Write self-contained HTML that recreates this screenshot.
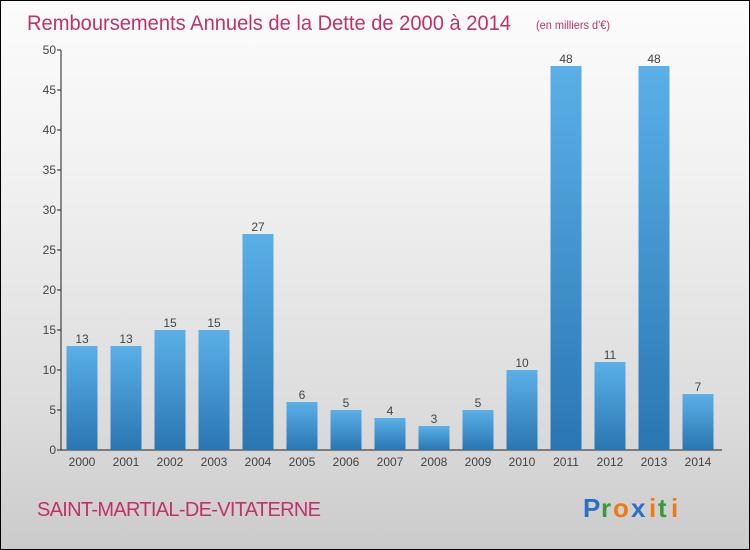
<!DOCTYPE html>
<html><head><meta charset="utf-8"><style>
html,body{margin:0;padding:0}
body{width:750px;height:550px;overflow:hidden;font-family:"Liberation Sans",sans-serif}
#wrap{position:relative;width:748px;height:548px;border:1px solid #000;background:linear-gradient(#fcfcfc,#f2f2f2 30%,#dcdcdc 75%,#cbcbcb)}
</style></head><body>
<div id="wrap">
<svg width="748" height="548" style="position:absolute;left:0;top:0">
<defs><linearGradient id="bg" x1="0" y1="0" x2="0" y2="1"><stop offset="0" stop-color="#5bb0e8"/><stop offset="1" stop-color="#2a76b2"/></linearGradient></defs>
<text x="26" y="29" font-size="21" fill="#c2316a" textLength="484" lengthAdjust="spacingAndGlyphs">Remboursements Annuels de la Dette de 2000 à 2014</text>
<text x="535" y="28" font-size="12" fill="#c2316a" textLength="74" lengthAdjust="spacingAndGlyphs">(en milliers d'€)</text>
<g id="axes"></g><g id="bars"></g>
<text x="36" y="515" font-size="20" fill="#c2316a" textLength="284">SAINT-MARTIAL-DE-VITATERNE</text>
<g font-size="26" font-family="'Liberation Sans',sans-serif" font-weight="bold">
<text x="582" y="516" fill="#2a70c8">P</text><text x="600" y="516" fill="#3a9a3a">r</text><text x="612" y="516" fill="#f07a10">o</text><text x="630" y="516" fill="#2a70c8">x</text><text x="648" y="516" fill="#f07a10">i</text><text x="657" y="516" fill="#3a9a3a">t</text><text x="670" y="516" fill="#f07a10">i</text>
</g>
</svg></div>
<script>
const years=["2000","2001","2002","2003","2004","2005","2006","2007","2008","2009","2010","2011","2012","2013","2014"];
const values=[13,13,15,15,27,6,5,4,3,5,10,48,11,48,7];
const yTicks=[0,5,10,15,20,25,30,35,40,45,50];
const NS="http://www.w3.org/2000/svg";
const y0=449,yMax=50,ph=400,x0=60,step=44,bw=31;
const ys=v=>y0-v/yMax*ph, xs=i=>x0+21+i*step;
function mk(t,a,p){const e=document.createElementNS(NS,t);for(const k in a)e.setAttribute(k,a[k]);p.appendChild(e);return e;}
const ax=document.getElementById('axes'),bg=document.getElementById('bars');
const yl=mk('line',{x1:x0,y1:y0,x2:x0,y2:ys(50),stroke:'#222'},ax);


const xl=mk('line',{x1:x0,y1:y0,x2:721,y2:y0,stroke:'#222'},ax);


yTicks.forEach(v=>{
 mk('line',{x1:x0-4,y1:ys(v),x2:x0,y2:ys(v),stroke:'#222'},ax);
 const t=mk('text',{x:x0-5,y:ys(v)+4,'font-size':12,fill:'#444','text-anchor':'end'},ax);t.textContent=v;
 
 
});
years.forEach((yr,i)=>{
 const c=xs(i),v=values[i];
 const r=mk('rect',{x:c-bw/2,y:ys(v),width:bw,height:y0-ys(v),fill:'url(#bg)'},bg);
 
 
 const l=mk('text',{x:c,y:ys(v)-3,'font-size':12,fill:'#444','text-anchor':'middle'},bg);l.textContent=v;
 
 
 const t=mk('text',{x:c,y:y0+16,'font-size':12,fill:'#444','text-anchor':'middle'},ax);t.textContent=yr;
 
 
});
</script>
</body></html>
